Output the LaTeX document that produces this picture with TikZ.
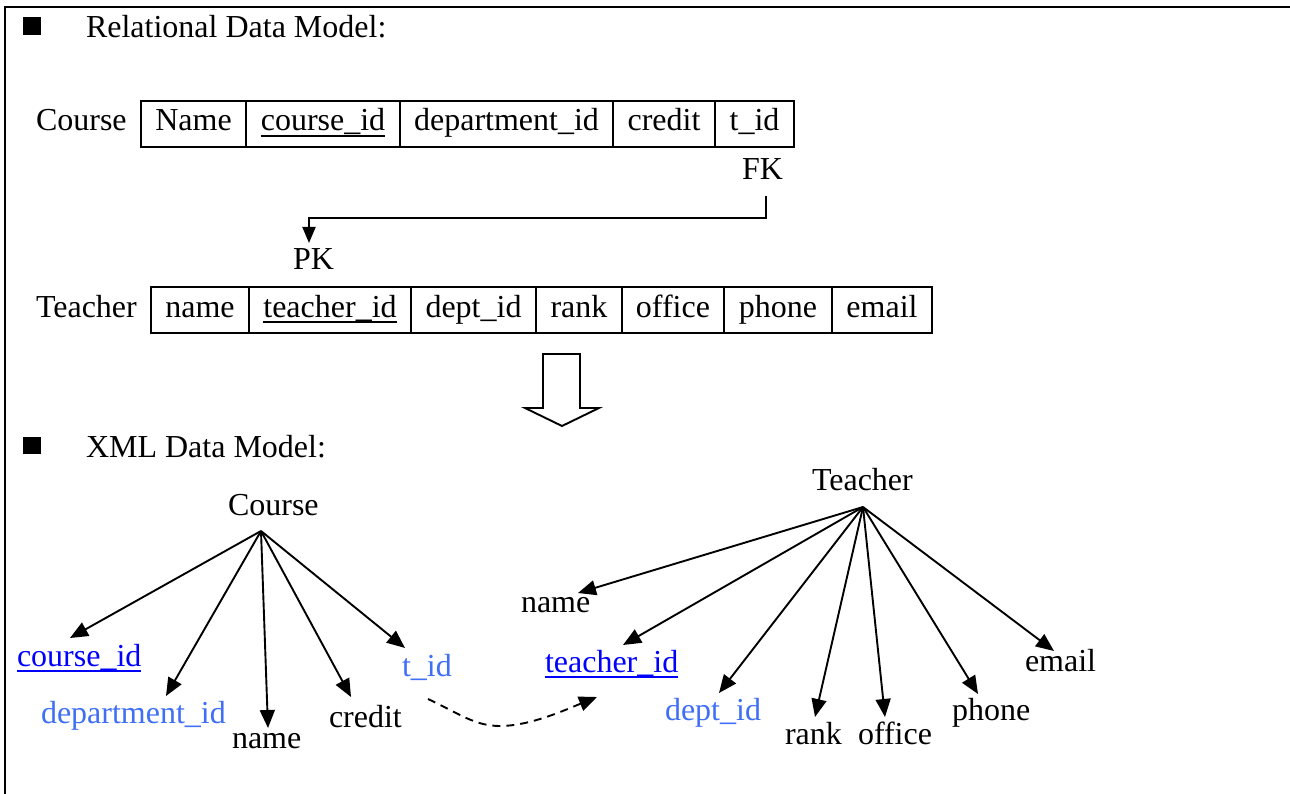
\documentclass[tikz,border=0pt]{standalone}
\usepackage{fontspec}
\setmainfont{Liberation Serif}
\usetikzlibrary{arrows.meta}
\definecolor{hb}{HTML}{0000FF}
\definecolor{lb}{HTML}{3F6FF5}
\newcommand\ulx[1]{\setbox0\hbox{#1}\rlap{\rule[-6pt]{\wd0}{1.8pt}}\box0}
\begin{document}
\begin{tikzpicture}[x=1pt,y=-1pt,
  font=\fontsize{32}{38}\selectfont,
  lbl/.style={anchor=base west, inner sep=0pt, outer sep=0pt},
  cell/.style={draw, line width=2pt, minimum height=46pt, text height=22pt, text depth=8pt,
               inner sep=0pt, outer sep=0pt, anchor=north west},
  arr/.style={-{Triangle[length=18pt,width=15pt]}, line width=1.9pt},
  dsh/.style={arr, dash pattern=on 8pt off 6pt},
  hollow/.style={draw, line width=1.9pt, line join=miter, fill=white}]
\useasboundingbox (0,0) rectangle (1290,794);
% frame
\draw[line width=2.4pt] (5,794) -- (5,7) -- (1290,7);
% bullets and titles
\fill (23,17) rectangle (41,35);
\node[lbl] (t1) at (86,38) {Relational Data Model:};
\fill (23,437) rectangle (41,454);
\node[lbl] (t2) at (86,457) {XML Data Model:};
% Course table
\node[lbl] (clab) at (36,131) {Course};
\node[cell, minimum width=105pt] (c1) at (141,101) {Name};
\node[cell, minimum width=154pt] (c2) at (246,101) {\ulx{course\_id}};
\node[cell, minimum width=213pt] (c3) at (400,101) {department\_id};
\node[cell, minimum width=102pt] (c4) at (613,101) {credit};
\node[cell, minimum width=79pt]  (c5) at (715,101) {t\_id};
\node[lbl] (fk) at (742,180) {FK};
\node[lbl] (pk) at (293,270) {PK};
\coordinate (fks) at (766,196);
\coordinate (pke) at (309,243);
\draw[arr, -{Triangle[length=16pt,width=13pt]}] (fks) -- (766,218) -| (pke);
% Teacher table
\node[lbl] (tlab) at (36,317) {Teacher};
\node[cell, minimum width=98pt]  (d1) at (151,287) {name};
\node[cell, minimum width=162pt] (d2) at (249,287) {\ulx{teacher\_id}};
\node[cell, minimum width=125pt] (d3) at (411,287) {dept\_id};
\node[cell, minimum width=86pt]  (d4) at (536,287) {rank};
\node[cell, minimum width=102pt] (d5) at (622,287) {office};
\node[cell, minimum width=108pt] (d6) at (724,287) {phone};
\node[cell, minimum width=100pt] (d7) at (832,287) {email};
% big hollow arrow
\path[hollow] (543,354) -- (580,354) -- (580,408) -- (599,408) -- (562,426) -- (525,408) -- (543,408) -- cycle;
% Course tree
\node[lbl] (ct) at (228,515) {Course};
\coordinate (cr) at (261,531);
\node[lbl, text=hb] (ccid) at (17,666) {\ulx{course\_id}};
\node[lbl, text=lb] (cdep) at (41,723) {department\_id};
\node[lbl] (cname) at (232,748) {name};
\node[lbl] (ccred) at (329,727) {credit};
\node[lbl, text=lb] (ctid) at (402,676) {t\_id};
\coordinate (a1) at (70,638);
\coordinate (a2) at (166,696);
\coordinate (a3) at (268,728);
\coordinate (a4) at (351,697);
\coordinate (a5) at (405,648);
\foreach \t in {a1,a2,a3,a4,a5} \draw[arr] (cr) -- (\t);
% Teacher tree
\node[lbl] (tt) at (812,490) {Teacher};
\coordinate (tr) at (863,507);
\node[lbl] (tname) at (521,612) {name};
\node[lbl, text=hb] (ttid) at (545,672) {\ulx{teacher\_id}};
\node[lbl, text=lb] (tdept) at (665,720) {dept\_id};
\node[lbl] (trank) at (785,744) {rank};
\node[lbl] (toff) at (858,744) {office};
\node[lbl] (tphone) at (952,720) {phone};
\node[lbl] (temail) at (1025,671) {email};
\coordinate (b1) at (578,593);
\coordinate (b2) at (623,645);
\coordinate (b3) at (719,693);
\coordinate (b4) at (815,717);
\coordinate (b5) at (885,717);
\coordinate (b6) at (978,694);
\coordinate (b7) at (1054,651);
\foreach \t in {b1,b2,b3,b4,b5,b6,b7} \draw[arr] (tr) -- (\t);
% dashed reference t_id -> teacher_id
\coordinate (ds) at (428,699);
\coordinate (de) at (597,697);
\draw[dsh] (ds) .. controls (460,714) and (475,726) .. (500,726) .. controls (530,726) and (565,710) .. (de);
\end{tikzpicture}
\end{document}
